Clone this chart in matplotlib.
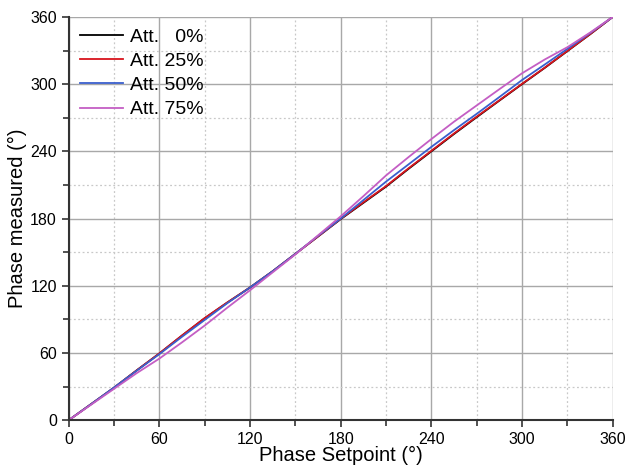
import matplotlib.pyplot as plt
from matplotlib.ticker import MultipleLocator
import numpy as np

plt.rcParams['font.family'] = ['Liberation Sans', 'DejaVu Sans']

# phase setpoint (deg)
setpoint = np.array([0, 15, 30, 45, 60, 75, 90, 105, 120, 135, 150, 165, 180,
                     195, 210, 225, 240, 255, 270, 285, 300, 315, 330, 345, 360])

# measured phase (deg) per attenuation
att_0 = np.array([0, 14.5, 29.0, 44.5, 59.5, 75.5, 91.0, 105.0, 118.5, 133.0, 148.5, 164.0, 179.5,
                  194.0, 208.5, 224.5, 240.0, 255.5, 270.5, 285.3, 300.0, 314.5, 329.5, 344.5, 360])
att_25 = np.array([0, 14.5, 29.0, 44.5, 59.7, 75.7, 91.2, 105.2, 118.5, 133.0, 148.5, 164.0, 179.8,
                   194.5, 209.0, 225.0, 240.5, 256.0, 271.0, 285.6, 300.3, 314.7, 329.7, 344.6, 360])
att_50 = np.array([0, 14.5, 29.2, 44.2, 59.0, 74.5, 89.5, 104.5, 118.5, 133.0, 148.5, 164.5, 180.0,
                   196.5, 213.0, 228.5, 244.0, 259.0, 273.5, 288.5, 303.7, 317.5, 331.5, 345.5, 360])
att_75 = np.array([0, 14.0, 28.0, 42.0, 55.0, 69.5, 84.5, 100.5, 116.0, 132.0, 148.0, 165.0, 182.0,
                   200.0, 218.5, 235.0, 251.0, 266.5, 281.0, 295.5, 309.7, 322.0, 333.0, 346.0, 360])

labels = ['Att.   0%', 'Att. 25%', 'Att. 50%', 'Att. 75%']
colors = ['black', '#d8141c', '#3a5fcd', '#c45ec4']

fig = plt.figure(figsize=(6.31, 4.71), dpi=100)
ax = fig.add_axes([0.109, 0.108, 0.862, 0.856])

for ys, lab, c in zip([att_0, att_25, att_50, att_75], labels, colors):
    ax.plot(setpoint, ys, color=c, lw=1.3, label=lab)

ax.set_xlim(0, 360)
ax.set_ylim(0, 360)
ax.xaxis.set_major_locator(MultipleLocator(60))
ax.yaxis.set_major_locator(MultipleLocator(60))
ax.xaxis.set_minor_locator(MultipleLocator(30))
ax.yaxis.set_minor_locator(MultipleLocator(30))
ax.grid(which='major', color='#a8a8a8', lw=1.0, ls='-')
ax.grid(which='minor', color='#c8c8c8', lw=0.9, ls=(0, (1.5, 2)))
ax.set_axisbelow(True)

for s in ['top', 'right']:
    ax.spines[s].set_visible(False)
for s in ['left', 'bottom']:
    ax.spines[s].set_linewidth(1.5)
    ax.spines[s].set_color('#333333')

ax.tick_params(which='major', direction='out', length=5, width=1.2, labelsize=11.5, colors='#333333')
ax.tick_params(which='minor', direction='out', length=4, width=1.2, colors='#333333')
ax.tick_params(labelcolor='black')

ax.set_xlabel('Phase Setpoint (°)', fontsize=14.5, labelpad=-1)
ax.set_ylabel('Phase measured (°)', fontsize=14.5, labelpad=2)

ax.legend(loc='upper left', frameon=False, fontsize=14, handlelength=2.2,
          handletextpad=0.35, labelspacing=0.33, borderaxespad=0.2,
          bbox_to_anchor=(0.0, 1.0))

fig.savefig('out.png', dpi=100)
